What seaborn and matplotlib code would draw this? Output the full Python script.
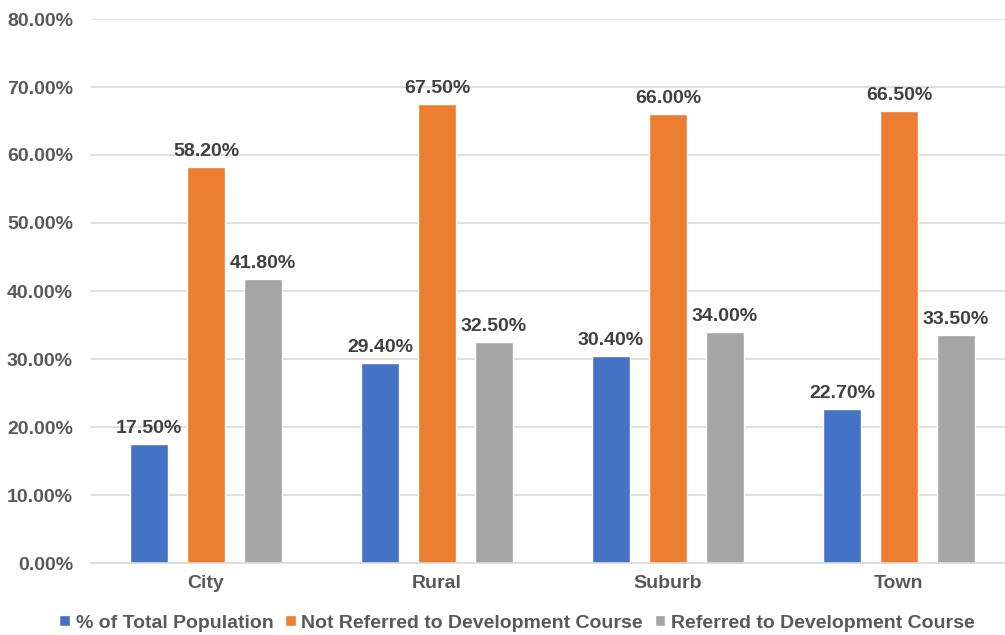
import pandas as pd
import matplotlib.pyplot as plt
import seaborn as sns
from matplotlib.ticker import PercentFormatter

# Data
locales = ["City", "Rural", "Suburb", "Town"]
series_names = ["% of Total Population",
                "Not Referred to Development Course",
                "Referred to Development Course"]
pct_total_pop = [17.5, 29.4, 30.4, 22.7]
not_referred = [58.2, 67.5, 66.0, 66.5]
referred = [41.8, 32.5, 34.0, 33.5]

colors = ["#4472C4", "#ED7D31", "#A5A5A5"]
text_col = "#595959"
label_col = "#404040"

rows = []
for name, vals in zip(series_names, [pct_total_pop, not_referred, referred]):
    for loc, v in zip(locales, vals):
        rows.append({"locale": loc, "series": name, "value": v})
df = pd.DataFrame(rows)

sns.set_style("white")
plt.rcParams['font.family'] = ['Liberation Sans', 'DejaVu Sans']
plt.rcParams['font.weight'] = 'bold'

fig = plt.figure(figsize=(10.05, 6.35), dpi=100)
ax = fig.add_axes([91/1005, (635-563)/635, (1005-91)/1005, (563-19)/635])

sns.barplot(data=df, x="locale", y="value", hue="series", palette=colors,
            width=0.74, gap=0.32, ax=ax, saturation=1, legend=True)

for cont in ax.containers:
    ax.bar_label(cont, fmt="%.2f%%", padding=5, fontsize=14,
                 fontweight='bold', color=label_col)

ax.set_ylim(0, 80)
ax.set_xlim(-(206-91)/231, 3 + (1005-899)/231)
ax.set_yticks(range(0, 81, 10))
ax.yaxis.set_major_formatter(PercentFormatter(decimals=2))
ax.grid(axis='y', color='#D9D9D9', linewidth=1.2)
ax.set_axisbelow(True)
for s in ["top", "right", "left"]:
    ax.spines[s].set_visible(False)
ax.spines["bottom"].set_color('#D9D9D9')
ax.spines["bottom"].set_linewidth(1.2)
ax.tick_params(axis='y', length=0, pad=13, labelsize=14, labelcolor=text_col)
ax.tick_params(axis='x', length=0, pad=9, labelsize=14, labelcolor=text_col)
ax.set_xlabel("")
ax.set_ylabel("")

handles, labels = ax.get_legend_handles_labels()
ax.legend(handles, labels, loc='center', bbox_to_anchor=(517/1005, 12/635),
          bbox_transform=fig.transFigure, ncol=3, frameon=False,
          fontsize=14, handlelength=0.55, handleheight=0.55, handletextpad=0.3,
          columnspacing=0.6, labelcolor=text_col)

fig.savefig("out.png", dpi=100)
